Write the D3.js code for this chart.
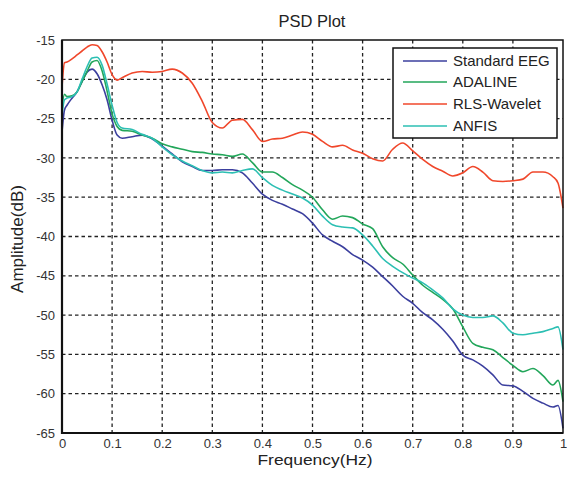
<!DOCTYPE html>
<html><head><meta charset="utf-8">
<script src="https://cdn.jsdelivr.net/npm/d3@7/dist/d3.min.js"></script>
<style>body{margin:0;background:#fff;}svg{display:block;font-family:Arial,"Liberation Sans",sans-serif;}</style>
</head><body><div id="chart"></div>
<script>
const freq = [0,0.005,0.01,0.02,0.03,0.04,0.05,0.06,0.07,0.08,0.09,0.10,0.11,0.12,
0.14,0.16,0.18,0.20,0.22,0.24,0.26,0.28,0.30,0.32,0.34,0.36,0.38,0.40,0.42,0.44,0.46,0.48,
0.50,0.52,0.54,0.56,0.58,0.60,0.62,0.64,0.66,0.68,0.70,0.72,0.74,0.76,0.78,0.80,0.82,0.84,
0.86,0.88,0.90,0.92,0.94,0.96,0.98,0.99,1.0];

const standardEEG = [-26.7,-23.9,-23.3,-22.4,-21.6,-20.3,-19.1,-18.7,-19.3,-20.7,-22.6,-25.2,-27.1,-27.5,
-27.3,-27.1,-27.6,-28.5,-29.5,-30.5,-31.1,-31.6,-31.6,-31.5,-31.5,-31.9,-33.2,-34.6,-35.4,-35.9,-36.5,-37.1,
-38.3,-39.8,-40.6,-41.3,-42.3,-43.0,-43.9,-45.1,-46.3,-47.6,-48.5,-49.7,-50.6,-51.8,-53.3,-55.1,-55.7,-56.5,
-57.6,-58.9,-59.0,-59.7,-60.6,-61.2,-61.7,-61.5,-64.4];

const adaline = [-23.5,-21.9,-22.2,-22.1,-21.6,-20.3,-19.0,-17.8,-17.6,-18.9,-21.5,-24.4,-26.0,-26.5,
-26.6,-27.1,-27.5,-28.2,-28.6,-28.9,-29.2,-29.3,-29.5,-29.6,-29.8,-29.5,-30.6,-31.8,-31.8,-32.5,-33.4,-34.1,
-35.0,-36.6,-37.8,-37.4,-37.6,-38.4,-39.0,-41.3,-42.7,-43.5,-44.9,-46.2,-47.1,-48.0,-49.2,-51.5,-53.6,-54.1,
-54.4,-55.4,-56.4,-57.2,-56.8,-57.7,-58.9,-58.3,-61.0];

const rlsWavelet = [-21.0,-17.9,-17.8,-17.4,-16.9,-16.4,-15.9,-15.6,-15.7,-16.5,-17.8,-19.4,-20.1,-19.8,
-19.2,-19.0,-19.1,-19.0,-18.7,-19.2,-20.5,-22.8,-25.5,-26.2,-25.2,-25.1,-26.4,-27.9,-27.6,-27.5,-27.1,-26.7,
-27.0,-27.9,-28.6,-28.4,-29.0,-29.4,-30.1,-30.4,-28.9,-28.1,-29.1,-30.2,-31.1,-31.7,-32.3,-31.9,-31.1,-31.8,
-32.9,-33.0,-32.9,-32.7,-31.8,-31.8,-32.4,-33.2,-36.4];

const anfis = [-24.5,-22.6,-22.4,-22.2,-21.6,-20.0,-18.4,-17.3,-17.2,-18.2,-20.6,-23.3,-25.5,-26.2,
-26.4,-27.0,-27.5,-28.6,-29.6,-30.4,-31.0,-31.6,-31.9,-31.8,-31.9,-31.6,-31.4,-32.5,-33.5,-34.1,-34.6,-35.1,
-36.0,-37.4,-38.5,-38.8,-38.9,-39.8,-41.2,-42.8,-43.8,-44.6,-45.3,-45.9,-46.8,-47.8,-49.2,-50.0,-50.3,-50.3,
-50.1,-51.0,-52.3,-52.5,-52.3,-52.1,-51.7,-51.5,-54.4];

const seriesNames = ["Standard EEG","ADALINE","RLS-Wavelet","ANFIS"];
const seriesColors = ["#3b3f9e","#22a65a","#f0472b","#2cbfb3"];
const xTicks = [0,0.1,0.2,0.3,0.4,0.5,0.6,0.7,0.8,0.9,1];
const xTickLabels = ["0","0.1","0.2","0.3","0.4","0.5","0.6","0.7","0.8","0.9","1"];
const yTicks = [-15,-20,-25,-30,-35,-40,-45,-50,-55,-60,-65];
const yTickLabels = ["-15","-20","-25","-30","-35","-40","-45","-50","-55","-60","-65"];

const W = 567, H = 477;
const L = 62, R = 563, T = 40, B = 433;

const svg = d3.select("#chart").append("svg").attr("width", W).attr("height", H);
const x = d3.scaleLinear().domain([0,1]).range([L,R]);
const y = d3.scaleLinear().domain([-65,-15]).range([B,T]);

// grid
const grid = svg.append("g");
grid.selectAll("line.gx").data(xTicks.slice(1,-1)).enter().append("line")
  .attr("x1", d=>x(d)).attr("x2", d=>x(d)).attr("y1", T).attr("y2", B)
  .attr("stroke","#222").attr("stroke-width",1.3).attr("stroke-dasharray","3.5,3");
grid.selectAll("line.gy").data(yTicks.slice(1,-1)).enter().append("line")
  .attr("y1", d=>y(d)).attr("y2", d=>y(d)).attr("x1", L).attr("x2", R)
  .attr("stroke","#222").attr("stroke-width",1.3).attr("stroke-dasharray","3.5,3");

// axes
const xAxis = d3.axisBottom(x).tickValues(xTicks).tickFormat((d,i)=>xTickLabels[i]).tickSize(0).tickPadding(6);
const gx = svg.append("g").attr("transform",`translate(0,${B})`).call(xAxis);
gx.select(".domain").remove();
gx.selectAll("text").attr("font-size",13).attr("fill","#333").attr("font-family","Arial, 'Liberation Sans', sans-serif");

const yAxis = d3.axisLeft(y).tickValues(yTicks).tickFormat((d,i)=>yTickLabels[i]).tickSize(0).tickPadding(7);
const gy = svg.append("g").attr("transform",`translate(${L},0)`).call(yAxis);
gy.select(".domain").remove();
gy.selectAll("text").attr("font-size",13).attr("fill","#333").attr("font-family","Arial, 'Liberation Sans', sans-serif");

// lines
const data = [standardEEG, adaline, rlsWavelet, anfis];
const line = d3.line().x((d,i)=>x(freq[i])).y(d=>y(d)).curve(d3.curveMonotoneX);
svg.append("g").selectAll("path").data(data).enter().append("path")
  .attr("d", line).attr("fill","none")
  .attr("stroke",(d,i)=>seriesColors[i]).attr("stroke-width",1.6);

// frame
svg.append("rect").attr("x",L).attr("y",T).attr("width",R-L).attr("height",B-T)
  .attr("fill","none").attr("stroke","#111").attr("stroke-width",1.5);
svg.append("line").attr("x1",L).attr("x2",L).attr("y1",T).attr("y2",B+1).attr("stroke","#111").attr("stroke-width",2.2);
svg.append("line").attr("x1",L-1).attr("x2",R).attr("y1",B).attr("y2",B).attr("stroke","#111").attr("stroke-width",2.2);

// legend
const lg = svg.append("g");
lg.append("rect").attr("x",393).attr("y",48).attr("width",164).attr("height",90)
  .attr("fill","#fff").attr("stroke","#111").attr("stroke-width",1.5);
const rowY = [61,82,104,126];
seriesNames.forEach((n,i)=>{
  lg.append("line").attr("x1",403).attr("x2",447).attr("y1",rowY[i]).attr("y2",rowY[i])
    .attr("stroke",seriesColors[i]).attr("stroke-width",1.6);
  lg.append("text").attr("x",453).attr("y",rowY[i]).attr("dy","0.36em")
    .attr("font-size",15).attr("fill","#222").text(n);
});

// titles
svg.append("text").attr("x",312).attr("y",27).attr("text-anchor","middle")
  .attr("font-size",16.5).attr("fill","#222").text("PSD Plot");
svg.append("text").attr("x",315).attr("y",465).attr("text-anchor","middle")
  .attr("font-size",15).attr("textLength",115).attr("lengthAdjust","spacingAndGlyphs")
  .attr("fill","#222").text("Frequency(Hz)");
svg.append("text").attr("transform","translate(23,239) rotate(-90)").attr("text-anchor","middle")
  .attr("font-size",16).attr("textLength",108).attr("lengthAdjust","spacingAndGlyphs")
  .attr("fill","#222").text("Amplitude(dB)");
</script></body></html>
